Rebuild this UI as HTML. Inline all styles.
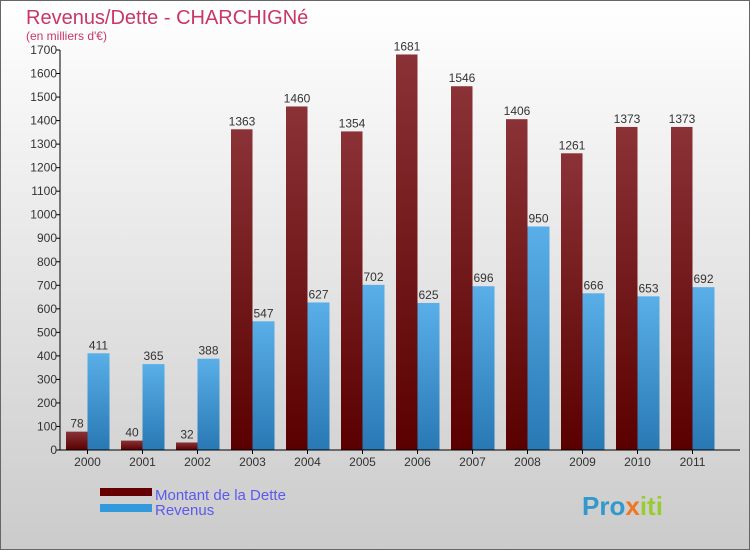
<!DOCTYPE html>
<html><head><meta charset="utf-8"><style>
body{margin:0;width:750px;height:550px;overflow:hidden;font-family:"Liberation Sans",sans-serif}
</style></head><body>
<svg width="750" height="550" xmlns="http://www.w3.org/2000/svg" id="chart">
<defs>
<linearGradient id="bg" x1="0" y1="0" x2="0" y2="1"><stop offset="0" stop-color="#ffffff"/><stop offset="1" stop-color="#cbcbcb"/></linearGradient>
<linearGradient id="gd" x1="0" y1="0" x2="0" y2="1"><stop offset="0" stop-color="#8a3236"/><stop offset="1" stop-color="#5a0000"/></linearGradient>
<linearGradient id="gr" x1="0" y1="0" x2="0" y2="1"><stop offset="0" stop-color="#5aafe8"/><stop offset="1" stop-color="#2878b4"/></linearGradient>
</defs>
<rect x="0.5" y="0.5" width="749" height="549" fill="url(#bg)" stroke="#666"/>
<text x="26" y="24" font-size="20" fill="#c8366a">Revenus/Dette - CHARCHIGNé</text>
<text x="26" y="40" font-size="12" fill="#c8366a">(en milliers d'€)</text>
<g id="plot"></g>
<g>
<rect x="100" y="488" width="52" height="8" fill="#660000"/>
<text x="155" y="500" font-size="15" fill="#5a5aee">Montant de la Dette</text>
<rect x="100" y="504" width="52" height="8" fill="#3399dd"/>
<text x="155" y="515" font-size="15" fill="#5a5aee">Revenus</text>
</g>
<text x="582" y="515" font-size="26" font-weight="bold" fill="#3399cc">Pro<tspan fill="#ee7722">x</tspan><tspan fill="#99cc33">iti</tspan></text>
</svg>
<script>
const categories=["2000","2001","2002","2003","2004","2005","2006","2007","2008","2009","2010","2011"];
const debtValues=[78,40,32,1363,1460,1354,1681,1546,1406,1261,1373,1373];
const revenueValues=[411,365,388,547,627,702,625,696,950,666,653,692];
const yTicks=[0,100,200,300,400,500,600,700,800,900,1000,1100,1200,1300,1400,1500,1600,1700];
const NS="http://www.w3.org/2000/svg";
const g=document.getElementById('plot');
const x0=60,y0=450,yTop=50,yMax=1700,step=55;
const y=v=>y0-(v/yMax)*(y0-yTop);
const xg=i=>x0+i*step;
function mk(t,a){const e=document.createElementNS(NS,t);for(const k in a)e.setAttribute(k,a[k]);g.appendChild(e);return e;}
yTicks.forEach(v=>{
  const l=mk('line',{x1:x0-4,x2:x0,y1:y(v),y2:y(v),stroke:'#000'});
  
  
  const t=mk('text',{x:x0-3,y:y(v)+4,'font-size':12,fill:'#333','text-anchor':'end'});
  t.textContent=v;
  
  
});
categories.forEach((c,i)=>{
  const b=mk('rect',{x:xg(i)+6,y:y(debtValues[i]),width:21.5,height:y0-y(debtValues[i]),fill:'url(#gd)'});
  
  
  const r=mk('rect',{x:xg(i)+27.5,y:y(revenueValues[i]),width:22,height:y0-y(revenueValues[i]),fill:'url(#gr)'});
  
  
  const t1=mk('text',{x:xg(i)+17,y:y(debtValues[i])-4,'font-size':12,fill:'#333','text-anchor':'middle'});
  t1.textContent=debtValues[i];
  
  
  const t2=mk('text',{x:xg(i)+38.5,y:y(revenueValues[i])-4,'font-size':12,fill:'#333','text-anchor':'middle'});
  t2.textContent=revenueValues[i];
  
  
  const tk=mk('line',{x1:xg(i)+27.5,x2:xg(i)+27.5,y1:y0,y2:y0+4,stroke:'#000'});
  
  
  const xl=mk('text',{x:xg(i)+27.5,y:y0+16,'font-size':12,fill:'#333','text-anchor':'middle'});
  xl.textContent=c;
  
  
});
const ya=mk('line',{x1:x0,x2:x0,y1:yTop,y2:y0,stroke:'#000'});


const xa=mk('line',{x1:x0,x2:740,y1:y0,y2:y0,stroke:'#000'});


</script>
</body></html>
